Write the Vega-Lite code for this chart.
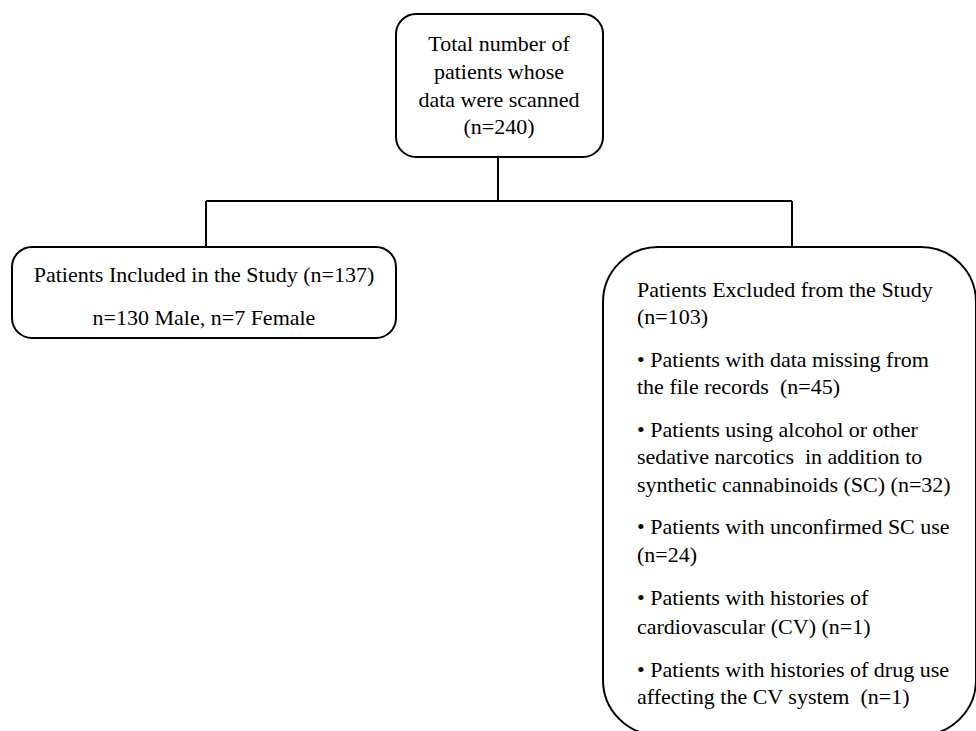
{
  "$schema": "https://vega.github.io/schema/vega-lite/v6.json",
  "width": 976,
  "height": 731,
  "padding": 0,
  "autosize": {"type": "fit", "contains": "padding"},
  "background": "white",
  "config": {"view": {"stroke": null}},
  "datasets": {
    "boxes": [
      {"box": "total", "x1": 396, "x2": 603, "y1": 14, "y2": 157},
      {"box": "included", "x1": 12, "x2": 396, "y1": 247, "y2": 338},
      {"box": "excluded", "x1": 603, "x2": 976, "y1": 247, "y2": 735}
    ],
    "links": [
      {"x1": 498, "x2": 498, "y1": 157, "y2": 201},
      {"x1": 206, "x2": 792, "y1": 201, "y2": 201},
      {"x1": 206, "x2": 206, "y1": 201, "y2": 247},
      {"x1": 792, "x2": 792, "y1": 201, "y2": 247}
    ],
    "centered": [
      {"x": 499, "y": 44, "label": "Total number of"},
      {"x": 499, "y": 72, "label": "patients whose"},
      {"x": 499, "y": 100, "label": "data were scanned"},
      {"x": 499, "y": 127, "label": "(n=240)"},
      {"x": 204, "y": 275, "label": "Patients Included in the Study (n=137)"},
      {"x": 204, "y": 318, "label": "n=130 Male, n=7 Female"}
    ],
    "lefttext": [
      {"x": 637, "y": 290, "label": "Patients Excluded from the Study"},
      {"x": 637, "y": 317, "label": "(n=103)"},
      {"x": 637, "y": 360, "label": "• Patients with data missing from"},
      {"x": 637, "y": 387, "label": "the file records \u00a0(n=45)"},
      {"x": 637, "y": 430, "label": "• Patients using alcohol or other"},
      {"x": 637, "y": 457, "label": "sedative narcotics \u00a0in addition to"},
      {"x": 637, "y": 485, "label": "synthetic cannabinoids (SC) (n=32)"},
      {"x": 637, "y": 527, "label": "• Patients with unconfirmed SC use"},
      {"x": 637, "y": 555, "label": "(n=24)"},
      {"x": 637, "y": 598, "label": "• Patients with histories of"},
      {"x": 637, "y": 627, "label": "cardiovascular (CV) (n=1)"},
      {"x": 637, "y": 670, "label": "• Patients with histories of drug use"},
      {"x": 637, "y": 697, "label": "affecting the CV system \u00a0(n=1)"}
    ]
  },
  "layer": [
    {
      "data": {"name": "boxes"},
      "transform": [{"filter": "datum.box !== 'excluded'"}],
      "mark": {"type": "rect", "fill": null, "fillOpacity": 0, "stroke": "black", "strokeWidth": 2, "cornerRadius": 20},
      "encoding": {
        "x": {"field": "x1", "type": "quantitative", "scale": {"domain": [0, 976], "nice": false, "zero": false}, "axis": null},
        "x2": {"field": "x2"},
        "y": {"field": "y1", "type": "quantitative", "scale": {"domain": [0, 731], "nice": false, "zero": false, "reverse": true}, "axis": null},
        "y2": {"field": "y2"}
      }
    },
    {
      "data": {"name": "boxes"},
      "transform": [{"filter": "datum.box === 'excluded'"}],
      "mark": {"type": "rect", "fill": null, "fillOpacity": 0, "stroke": "black", "strokeWidth": 2, "cornerRadius": 55, "clip": true},
      "encoding": {
        "x": {"field": "x1", "type": "quantitative"},
        "x2": {"field": "x2"},
        "y": {"field": "y1", "type": "quantitative"},
        "y2": {"field": "y2"}
      }
    },
    {
      "data": {"name": "links"},
      "mark": {"type": "rule", "stroke": "black", "strokeWidth": 2},
      "encoding": {
        "x": {"field": "x1", "type": "quantitative"},
        "x2": {"field": "x2"},
        "y": {"field": "y1", "type": "quantitative"},
        "y2": {"field": "y2"}
      }
    },
    {
      "data": {"name": "centered"},
      "mark": {"type": "text", "font": "Times New Roman, Liberation Serif, DejaVu Serif, serif", "fontSize": 22, "align": "center", "baseline": "middle", "color": "black"},
      "encoding": {
        "x": {"field": "x", "type": "quantitative"},
        "y": {"field": "y", "type": "quantitative"},
        "text": {"field": "label", "type": "nominal"}
      }
    },
    {
      "data": {"name": "lefttext"},
      "mark": {"type": "text", "font": "Times New Roman, Liberation Serif, DejaVu Serif, serif", "fontSize": 22, "align": "left", "baseline": "middle", "color": "black"},
      "encoding": {
        "x": {"field": "x", "type": "quantitative"},
        "y": {"field": "y", "type": "quantitative"},
        "text": {"field": "label", "type": "nominal"}
      }
    }
  ]
}
